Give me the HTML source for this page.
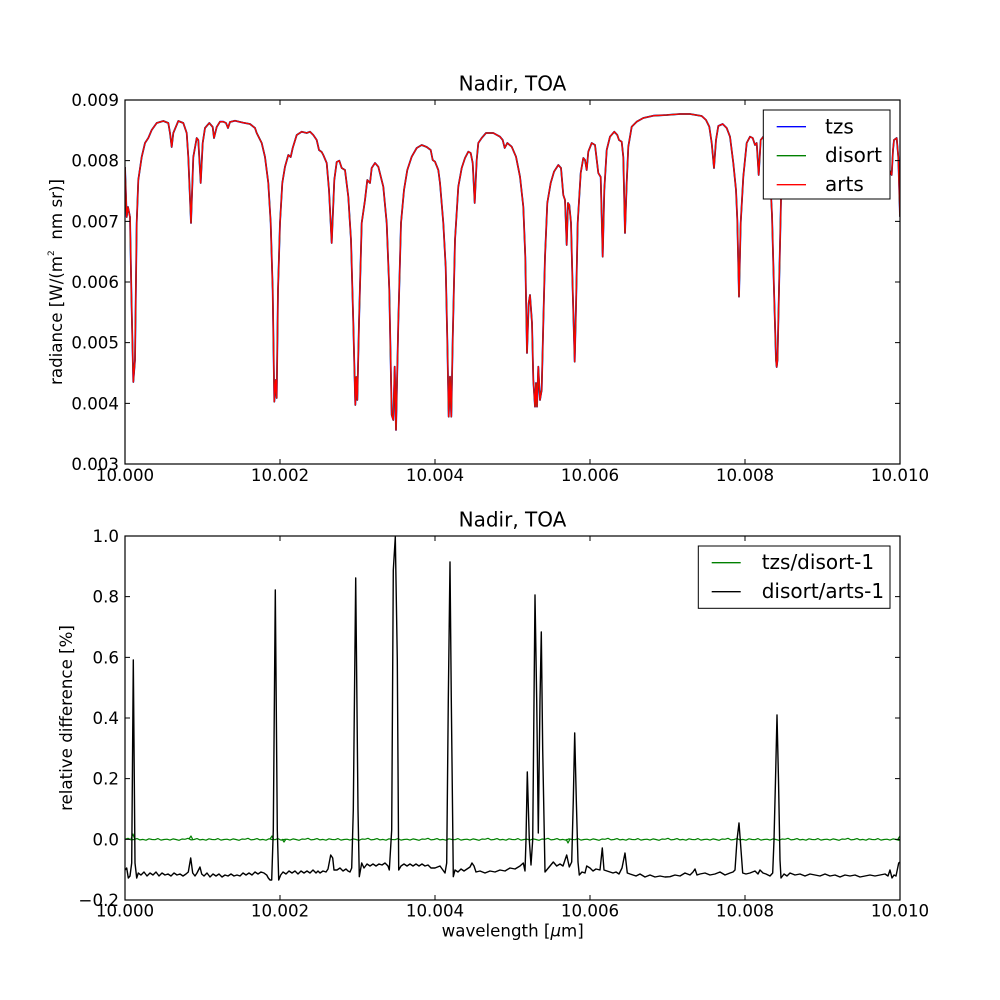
<!DOCTYPE html>
<html><head><meta charset="utf-8"><style>
html,body{margin:0;padding:0;background:#fff;}
svg{display:block;font-family:"DejaVu Sans","Liberation Sans",sans-serif;}
</style></head><body>
<svg width="1000" height="1000" viewBox="0 0 1000 1000" xmlns="http://www.w3.org/2000/svg">
<defs>
<clipPath id="c1"><rect x="125" y="100" width="775" height="364"/></clipPath>
<clipPath id="c2"><rect x="125" y="536" width="775" height="364"/></clipPath>
<path id="gn" d="M0,0 l3,-1 l3,1.6 l3,-0.4 l3,-0.9 l3,1.3 l3,-0.5 l3,0.8 l3,-1.4 l3,0.7 l3,0.2 l3,-1.1 l3,1.5 l3,-0.6 l3,-0.3 l3,0.9 l3,-1.2 l3,0.6 l3,0.8 l3,-1.3 l3,0.3" fill="none" stroke="#008000" stroke-width="1.2"/>
<path id="topc" d="M125,167 L126.7,217 128,207 130,217 131.5,300 133.3,382 135,360 136.7,223 138.3,180 141.7,157 145,143 148.3,138 151.7,130 156.7,123 163.3,121 168.3,123 170,133 171.7,147 173.3,133 178.3,121 183.3,123 186.7,133 188.3,157 191,223 193.3,157 196.7,138 198.3,140 200.7,183 202.7,143 205,128 209.3,123 212.7,127 214,138 216.7,127 220,121.7 223.3,121.7 226,123 228,128 230,122 235,120.7 243.3,122.7 250,124 255,128 256.7,133 261.7,143 265,157 268.3,183 270.7,223 272.7,290 274.3,401.7 275.7,380 276.7,398 278,290 280,223 282.3,183 285,166.7 288.3,155 290.7,157 292.7,148 296.7,135 301.7,131.7 306.7,133 310,131.7 313.3,135 316.7,140 319,150 321.7,152 323.3,155 326.7,163 329,190 331.7,243 334.3,180 336.7,162 339.3,160.7 341.7,168 345,170 348.3,196.7 351,240 353.3,323 355.3,405 356.3,377 357.3,400 359,323 361.7,223 365,200 367.3,180 370,183 371.7,168 375,163 378.3,166.7 383.3,186.7 386.7,223 389.3,290 391.7,415 393.3,420 394.7,366.7 396,430 398.3,323 401,223 404,190 407.3,170 411.7,156.7 416.7,148 421.7,145 426.7,147 430.7,150 432.7,160 435,161.7 438.3,170 440,183 443.3,223 445.7,267 447.3,340 448.7,416.7 450,376.7 451.3,416.7 452.7,340 455,240 458.3,186.7 461.7,168 465,158 468.3,151.7 470.7,153 472.7,163 474.7,203 476.7,160 478.3,143 481.7,138 486,133 493.3,133 500,136.7 502.7,140 504.7,148 507.3,143 511.7,146.7 516,156.7 520,176.7 523.3,206.7 525.3,257 527,353 528.7,303 530,295 532,323 533.3,380 535,406.7 536,383 537,406.7 538.3,366.7 540,400 541.7,390 543.3,323 545,257 547.3,203 550.7,183 554,171.7 558.3,165 561,168 563.3,195 565,200 566.7,245 568,203 569.3,205 571,223 572.7,290 574.7,361.7 576,307 577.7,223 580.7,173 583.3,158 585,160 586.7,170 588.3,151.7 591.7,143 595,145 598.3,173 600.7,177 602.7,256.7 604.3,190 606.7,150 610,136.7 614.3,131.7 617.3,135 619,140 621.7,141.7 623.3,157 625,233 626.7,183 628.3,146.7 631.7,126.7 636.7,121.7 643.3,118 653.3,115.7 666.7,115 680,114 690,114 701.7,116 706,120 709.3,126.7 711.7,143 714,168 716,140 718.3,126 722.7,124 726.7,128 730,136.7 733.3,163 736,190 737.3,220 739,296.7 740.7,223 743.3,176.7 746.7,143 750,136.7 752.7,138 755,145 756.7,143 758.7,175 760.7,140 763.3,136.7 766,140 768,150 770,175 772,215 774,290 776,360 776.7,367 777.5,360 779,290 781,200 783,160 786,145 790,140 795,142 800,138 810,140 820,138 830,142 840,139 850,141 860,138 870,140 880,142 885,140 888,150 889.5,170 891.7,175 893,150 894,140 896.7,138 898.3,157 900,216.7"/>
</defs>
<rect width="1000" height="1000" fill="#fff"/>

<!-- TOP PLOT -->
<g clip-path="url(#c1)" fill="none" stroke-linejoin="round">
<use href="#topc" stroke="#0000ff" stroke-width="1.8"/>
<use href="#topc" stroke="#008000" stroke-width="1.5"/>
<use href="#topc" stroke="#ff0000" stroke-width="1.3"/>
</g>

<!-- top axes frame -->
<rect x="125" y="100" width="775" height="364" fill="none" stroke="#000" stroke-width="1.2"/>
<g stroke="#000" stroke-width="1">
<path d="M280,100v5M435,100v5M590,100v5M745,100v5M280,464v-5M435,464v-5M590,464v-5M745,464v-5"/>
<path d="M125,160.67h5M125,221.33h5M125,282h5M125,342.67h5M125,403.33h5M900,160.67h-5M900,221.33h-5M900,282h-5M900,342.67h-5M900,403.33h-5"/>
</g>
<g font-size="16.67" fill="#000" text-anchor="end">
<text x="119" y="106">0.009</text>
<text x="119" y="166.67">0.008</text>
<text x="119" y="227.33">0.007</text>
<text x="119" y="288">0.006</text>
<text x="119" y="348.67">0.005</text>
<text x="119" y="409.33">0.004</text>
<text x="119" y="470">0.003</text>
</g>
<g font-size="16.67" fill="#000" text-anchor="middle">
<text x="125" y="481">10.000</text>
<text x="280" y="481">10.002</text>
<text x="435" y="481">10.004</text>
<text x="590" y="481">10.006</text>
<text x="745" y="481">10.008</text>
<text x="900" y="481">10.010</text>
</g>
<text x="512.5" y="90.7" font-size="20" text-anchor="middle">Nadir, TOA</text>
<text transform="translate(62,282) rotate(-90)" font-size="16.67" text-anchor="middle">radiance [W/(m<tspan font-size="9" dy="-8">2</tspan><tspan dy="8" xml:space="preserve">  nm sr)]</tspan></text>

<!-- top legend -->
<rect x="763.3" y="110" width="126.7" height="89" fill="#fff" stroke="#000" stroke-width="1"/>
<g stroke-width="1.4">
<path d="M776.7,126.7H806" stroke="#0000ff"/>
<path d="M776.7,155.7H806" stroke="#008000"/>
<path d="M776.7,184.7H806" stroke="#ff0000"/>
</g>
<g font-size="20" fill="#000">
<text x="825" y="133.3">tzs</text>
<text x="825" y="162.2">disort</text>
<text x="825" y="191.2">arts</text>
</g>

<!-- BOTTOM PLOT -->
<g clip-path="url(#c2)" fill="none" stroke-linejoin="round">
<g transform="translate(0,839.3)">
<use href="#gn" x="125"/><use href="#gn" x="185"/><use href="#gn" x="245"/><use href="#gn" x="305"/><use href="#gn" x="365"/><use href="#gn" x="425"/><use href="#gn" x="485"/><use href="#gn" x="545"/><use href="#gn" x="605"/><use href="#gn" x="665"/><use href="#gn" x="725"/><use href="#gn" x="785"/><use href="#gn" x="845"/>
</g>
<path d="M131,839 L133,834 135,840 M189,839 L191,836 193,840 M270,839 L272,836 274,840 M282,839 L284,842 286,839 M566,839 L568,843 570,839 M898,839 L900,836" stroke="#008000" stroke-width="1.2"/>
<path d="M125,870 L126.7,868 128.3,878 130,876 131.7,863 133.3,660 135,863 136.7,878 138.3,873 141,875 144,872 147,876 150,873 153,875 156,872 159,876 162,873 165,875 168,874 171,876 174,873 177,875 180,874 183,876 186,874 188.3,872 190.7,858 192.7,873 195,876 197,873 200,867 201.7,874 204,876 207,873 210,877 213,874 216,876 219,874 222,877 225,875 228,876 231,874 234,876 237,875 240,876 243,873 246,875 249,873 252,875 255,872 258,874 261,872 264,873 266.7,875 268.3,878 270,880 271.7,880 273.3,830 275.3,590 277.3,830 278.7,880 280.7,875 283,872 286,874 289,871 292,873 295,871 298,874 301,871 304,873 307,871 310,873 313,870 316,873 318,871 320,873 323,871 326,872 328,869 330.7,855 332.7,858 334,870 337,870 340,868 343,871 346,869 348,871 350,872 351.7,868 353.3,810 355.7,578 358,810 359.3,876.7 361.7,863 364,868 367,864 370,866 373,864 376,866 379,864 382,865 385,863 388,866 389.3,870 391.7,830 393.3,570 395.3,537 397.3,660 398.7,870 401,866 404,864 407,866 410,864 413,866 416,864 419,866 422,864 425,866 428,865 431,868 435,868 440,866 445,873 446.7,863 448.3,700 450,562 451.3,700 453.3,876.7 455,870 458,872 461,869 464,871 467,869 470,867 472,863 474,866 476,872 480,871 485,873 490,871 495,872 500,870 505,871 510,868 515,869 520,866 523.3,863 525,871 526,840 527.3,772 529.3,840 531,865 532.7,840 535,595 536.7,700 538.3,833 540,700 541.3,632 542.7,750 545,872 550,866 553.3,862 556.7,866 560,864 563,866 565,860 566.7,855 569.3,867 571.7,862 573.3,800 574.7,733 576.3,800 578,862 579.3,875 582,872 585,873 586.7,866 590,868 593,871 596,869 600,870 602.3,848 604,870 607,871 610,872 613,873 616,872 619,874 622,868 625,853 627.3,873 630,874 633,875 636,876 640,874 645,877 650,875 655,877 660,876 665,877 670,876.7 675,875 680,876 685,873 690,875 693,872 695,869 697,875 700,874 705,873 710,875 715,874 720,872 725,875 730,873 733,872 735,870 737,840 739,823 741,850 742.7,873 746,874 750,873 755,871 758,874 760,870 763,873 766,874 770,876 772.7,873 774,840 775.5,780 777,715 778.5,780 780,860 781,878 784,874 787,876 790,873 795,875 800,874 805,876 810,874 815,875 820,876 825,874 830,876 835,875 840,877 845,875 850,876 855,875 860,877 865,876 870,875 875,876 880,875 885,874 888,876 890,870 892,878 894,875 896,876 898.7,863 900,862" stroke="#000" stroke-width="1.4"/>
</g>

<rect x="125" y="536" width="775" height="364" fill="none" stroke="#000" stroke-width="1.2"/>
<g stroke="#000" stroke-width="1">
<path d="M280,536v5M435,536v5M590,536v5M745,536v5M280,900v-5M435,900v-5M590,900v-5M745,900v-5"/>
<path d="M125,596.67h5M125,657.33h5M125,718h5M125,778.67h5M125,839.33h5M900,596.67h-5M900,657.33h-5M900,718h-5M900,778.67h-5M900,839.33h-5"/>
</g>
<g font-size="16.67" fill="#000" text-anchor="end">
<text x="119" y="542">1.0</text>
<text x="119" y="602.67">0.8</text>
<text x="119" y="663.33">0.6</text>
<text x="119" y="724">0.4</text>
<text x="119" y="784.67">0.2</text>
<text x="119" y="845.33">0.0</text>
<text x="119" y="906">−0.2</text>
</g>
<g font-size="16.67" fill="#000" text-anchor="middle">
<text x="125" y="916.7">10.000</text>
<text x="280" y="916.7">10.002</text>
<text x="435" y="916.7">10.004</text>
<text x="590" y="916.7">10.006</text>
<text x="745" y="916.7">10.008</text>
<text x="900" y="916.7">10.010</text>
</g>
<text x="512.5" y="526.7" font-size="20" text-anchor="middle">Nadir, TOA</text>
<text x="512.7" y="936.7" font-size="16.67" text-anchor="middle">wavelength [<tspan font-style="italic">μ</tspan>m]</text>
<text transform="translate(72,718) rotate(-90)" font-size="16.67" text-anchor="middle">relative difference [%]</text>

<!-- bottom legend -->
<rect x="698.3" y="546" width="191.7" height="62.3" fill="#fff" stroke="#000" stroke-width="1"/>
<g stroke-width="1.4">
<path d="M711.7,562.7H740.7" stroke="#008000"/>
<path d="M711.7,591.7H740.7" stroke="#000"/>
</g>
<g font-size="20" fill="#000">
<text x="761.7" y="569.2">tzs/disort-1</text>
<text x="761.7" y="598.2">disort/arts-1</text>
</g>
</svg>
</body></html>
